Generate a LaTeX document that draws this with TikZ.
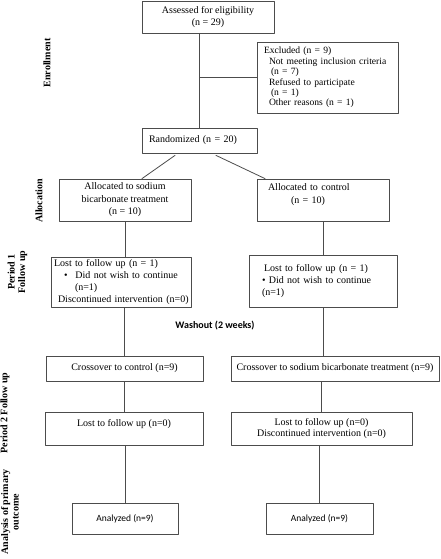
\documentclass[tikz,border=0pt]{standalone}
\usepackage{fontspec}
\setmainfont{Liberation Serif}
\newfontfamily\calibri{Carlito}
\usepackage{tikz}
\definecolor{linegray}{rgb}{0.3,0.3,0.3}
\begin{document}
\begin{tikzpicture}[line cap=round,line join=round,x=1pt,y=-1pt,
  box/.style={draw=linegray,line width=0.8pt,inner sep=0pt,align=center,font=\fontsize{10}{12}\selectfont},
  conn/.style={draw=linegray,line width=0.8pt},
  phase/.style={rotate=90,align=center,font=\fontsize{10}{10.5}\selectfont\bfseries},
  sansbox/.style={box,font=\calibri\fontsize{9.5}{11}\selectfont}]
\useasboundingbox (0,0) rectangle (441,559);
\node[phase] (enrol) at (47,63) {Enrollment};
\node[phase] (alloc) at (39,201) {Allocation};
\node[phase] (per1) at (17.5,272) {Period 1\\Follow up};
\node[phase] (per2) at (5,413) {Period 2 Follow up};
\node[phase] (anal) at (10,512) {Analysis of primary\\outcome};

\node[box,minimum width=132,minimum height=32] (assess) at (208,17) {Assessed for eligibility\\(n = 29)};
\node[box,minimum width=141,minimum height=71,text width=127,align=left,font=\fontsize{9.6}{10.4}\selectfont] (excl) at (327.5,77.5)
  {\mbox{Excluded (n = 9)}\\\mbox{\hspace*{5pt}Not meeting inclusion criteria}\\\hspace*{7pt}(n = 7)\\\mbox{\hspace*{5pt}Refused to participate}\\\hspace*{7pt}(n = 1)\\\mbox{\hspace*{5pt}Other reasons (n = 1)}};
\node[box,minimum width=115,minimum height=25,text width=101,align=left] (rand) at (199.5,140.5) {Randomized (n = 20)};
\node[box,minimum width=132,minimum height=42,font=\fontsize{10}{12.5}\selectfont] (allocS) at (125,200) {Allocated to sodium\\bicarbonate treatment\\(n = 10)};
\node[box,minimum width=132,minimum height=42,text width=110,align=left,font=\fontsize{10}{12.5}\selectfont] (allocC) at (323,200) {Allocated to control\\\hspace*{23pt}(n = 10)\\~};
\node[box,minimum width=140,minimum height=50,text width=134,align=left,font=\fontsize{10}{11.7}\selectfont] (p1S) at (121,282)
  {\mbox{Lost to follow up (n = 1)}\\\mbox{\hspace*{10pt}\textbullet\hspace{8pt}Did not wish to continue}\\\hspace*{21pt}(n=1)\\\mbox{\hspace*{4pt}Discontinued intervention (n=0)}};
\node[box,minimum width=148,minimum height=52,text width=122,align=left] (p1C) at (323,281)
  {\mbox{\hspace*{2pt}Lost to follow up (n = 1)}\\\mbox{\textbullet{} Did not wish to continue}\\(n=1)};
\node[font=\calibri\bfseries\fontsize{10}{12}\selectfont] (wash) at (215,326) {Washout (2 weeks)};
\node[box,minimum width=157,minimum height=25] (xS) at (124.5,368.5) {Crossover to control (n=9)};
\node[box,minimum width=208,minimum height=25] (xC) at (335,368.5) {Crossover to sodium bicarbonate treatment (n=9)};
\node[box,minimum width=158,minimum height=33,font=\fontsize{10}{11}\selectfont] (l2S) at (124,428.5) {Lost to follow up (n=0)\\~};
\node[box,minimum width=181,minimum height=33,font=\fontsize{10}{11}\selectfont] (l2C) at (321.5,428.5) {Lost to follow up (n=0)\\Discontinued intervention (n=0)};
\node[sansbox,minimum width=106,minimum height=31] (anS) at (125,518.5) {Analyzed (n=9)};
\node[sansbox,minimum width=107,minimum height=31] (anC) at (319.5,518.5) {Analyzed (n=9)};

\draw[conn] (rand.north |- assess.south) -- (rand.north);
\draw[conn] (rand.north |- excl.west) -- (excl.west);
\draw[conn] ([xshift=-24.5,yshift=-2]rand.south) -- ([xshift=17]allocS.north);
\draw[conn] ([xshift=16.5,yshift=-2]rand.south) -- ([xshift=-58]allocC.north);
\draw[conn] (allocS.south) -- (allocS.south |- p1S.north);
\draw[conn] (allocC.south) -- (p1C.north);
\draw[conn] (xS.north |- p1S.south) -- (xS.north);
\draw[conn] (p1C.south) -- (p1C.south |- xC.north);
\draw[conn] (xS.south) -- (xS.south |- l2S.north);
\draw[conn] (l2C.north |- xC.south) -- (l2C.north);
\draw[conn] (anS.north |- l2S.south) -- (anS.north);
\draw[conn] (anC.north |- l2C.south) -- (anC.north);
\end{tikzpicture}
\end{document}
